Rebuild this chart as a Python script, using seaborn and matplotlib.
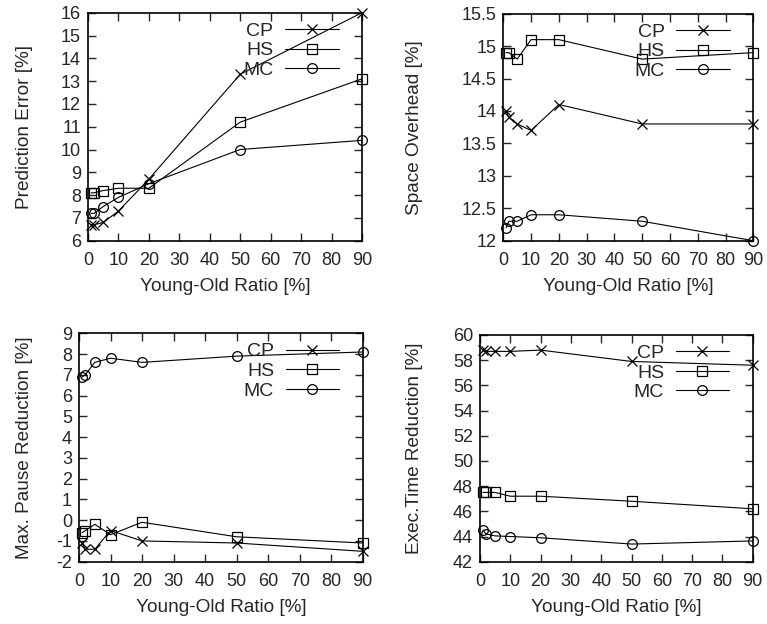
import matplotlib
matplotlib.use("Agg")
import matplotlib.pyplot as plt
from matplotlib.ticker import FuncFormatter, MultipleLocator
from matplotlib.transforms import blended_transform_factory, offset_copy
import pandas as pd
import seaborn as sns

# Young-old ratio settings (x axis, in %)
ratio = [1, 2, 5, 10, 20, 50, 90]
schemes = ["CP", "HS", "MC"]

# Prediction error [%]
pred_cp = [6.7, 6.7, 6.8, 7.3, 8.7, 13.3, 16.0]
pred_hs = [8.1, 8.1, 8.2, 8.3, 8.3, 11.2, 13.1]
pred_mc = [7.2, 7.2, 7.5, 7.9, 8.5, 10.0, 10.4]

# Space overhead [%]
space_cp = [14.0, 13.9, 13.8, 13.7, 14.1, 13.8, 13.8]
space_hs = [14.9, 14.9, 14.8, 15.1, 15.1, 14.8, 14.9]
space_mc = [12.2, 12.3, 12.3, 12.4, 12.4, 12.3, 12.0]

# Max. pause reduction [%]
pause_cp = [-1.1, -1.4, -1.4, -0.5, -1.0, -1.1, -1.5]
pause_hs = [-0.6, -0.5, -0.2, -0.7, -0.1, -0.8, -1.1]
pause_mc = [6.9, 7.0, 7.6, 7.8, 7.6, 7.9, 8.1]

# Execution time reduction [%]
exec_cp = [58.8, 58.7, 58.7, 58.7, 58.8, 57.9, 57.6]
exec_hs = [47.5, 47.5, 47.5, 47.2, 47.2, 46.8, 46.2]
exec_mc = [44.5, 44.2, 44.05, 44.0, 43.9, 43.4, 43.65]

sns.set_style("ticks")
plt.rcParams["font.family"] = ["Liberation Sans", "DejaVu Sans"]
plt.rcParams["font.size"] = 12

W, H = 767, 624
fig = plt.figure(figsize=(W / 100, H / 100), dpi=100)


def frac(left, top, right, bottom):
    return [left / W, 1 - bottom / H, (right - left) / W, (bottom - top) / H]


panels = [
    dict(box=(88, 12.7, 362, 240.7), data=(pred_cp, pred_hs, pred_mc),
         ylabel="Prediction Error [%]", ylim=(6, 16), step=1, label_x=33),
    dict(box=(503.3, 13.7, 753.3, 240.7), data=(space_cp, space_hs, space_mc),
         ylabel="Space Overhead [%]", ylim=(12, 15.5), step=0.5, label_x=423),
    dict(box=(79, 333.3, 362.7, 561.7), data=(pause_cp, pause_hs, pause_mc),
         ylabel="Max. Pause Reduction [%]", ylim=(-2, 9), step=1, label_x=33),
    dict(box=(480, 335, 752.7, 561.7), data=(exec_cp, exec_hs, exec_mc),
         ylabel="Exec.Time Reduction [%]", ylim=(42, 60), step=2, label_x=423),
]

marker_map = {"CP": "x", "HS": "s", "MC": "o"}
style = dict(color="black", linewidth=0.8, markersize=7,
             markerfacecolor="none", markeredgecolor="black",
             markeredgewidth=0.9)
fmt = FuncFormatter(lambda v, p: "%g" % v)

for p in panels:
    ax = fig.add_axes(frac(*p["box"]))
    for name, vals in zip(schemes, p["data"]):
        df = pd.DataFrame({"ratio": ratio, "value": vals})
        sns.lineplot(data=df, x="ratio", y="value", marker=marker_map[name],
                     label=name, ax=ax, clip_on=False, **style)

    # key in the upper right corner: label first, then line sample
    handles, labels = ax.get_legend_handles_labels()
    anchor = offset_copy(ax.transAxes, fig=fig, x=-23.5, y=-9.5, units="dots")
    ax.legend(handles, labels, loc="upper right", frameon=False,
              markerfirst=False, handlelength=2.75, handletextpad=0.6,
              labelspacing=0.1, borderaxespad=0, borderpad=0,
              bbox_to_anchor=(1, 1), bbox_transform=anchor, fontsize=14)

    ax.set_xlim(0, 90)
    ax.set_ylim(*p["ylim"])
    ax.xaxis.set_major_locator(MultipleLocator(10))
    ax.yaxis.set_major_locator(MultipleLocator(p["step"]))
    ax.yaxis.set_major_formatter(fmt)
    ax.tick_params(direction="in", length=6, width=1, top=True, right=True,
                   labelsize=13)
    ax.tick_params(axis="x", pad=8)
    ax.tick_params(axis="y", pad=5)
    for s in ax.spines.values():
        s.set_linewidth(1.2)
        s.set_color("black")

    ax.set_xlabel("Young-Old Ratio [%]", fontsize=13.7)
    ax.set_ylabel(p["ylabel"], fontsize=13.7)
    ax.yaxis.set_label_coords(
        p["label_x"] / W, 0.5,
        transform=blended_transform_factory(fig.transFigure, ax.transAxes))
    bottom_px = p["box"][3]
    ax.xaxis.set_label_coords(
        0.5, 1 - (bottom_px + 37) / H,
        transform=blended_transform_factory(ax.transAxes, fig.transFigure))

fig.savefig("out.png", dpi=100)
